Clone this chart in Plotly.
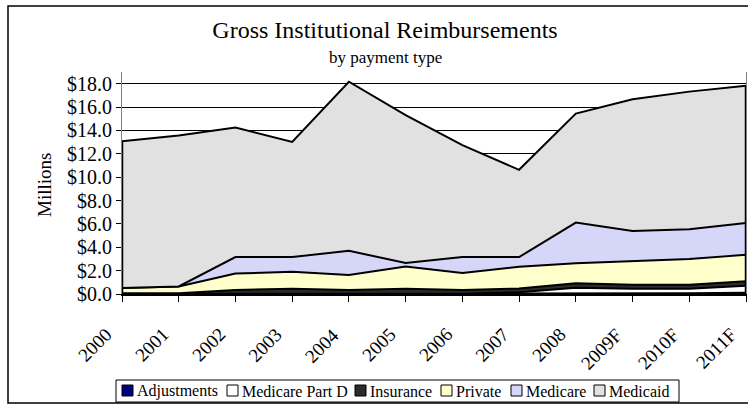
import plotly.graph_objects as go

# categories and series values (millions of dollars)
years = ["2000", "2001", "2002", "2003", "2004", "2005", "2006", "2007",
         "2008", "2009F", "2010F", "2011F"]

adjustments = [0.02, 0.02, 0.02, 0.02, 0.02, 0.02, 0.02, 0.02, 0.08, 0.06, 0.06, 0.10]
medicare_part_d = [0.0, 0.0, 0.0, 0.0, 0.0, 0.0, 0.0, 0.13, 0.45, 0.39, 0.39, 0.60]
insurance = [0.04, 0.04, 0.32, 0.43, 0.32, 0.43, 0.32, 0.33, 0.39, 0.35, 0.35, 0.40]
private = [0.45, 0.59, 1.41, 1.45, 1.28, 1.90, 1.45, 1.85, 1.72, 2.00, 2.20, 2.25]
medicare = [0.0, 0.0, 1.41, 1.26, 2.08, 0.30, 1.37, 0.83, 3.47, 2.60, 2.54, 2.73]
medicaid = [12.57, 12.91, 11.09, 9.86, 14.47, 12.65, 9.58, 7.47, 9.33, 11.26, 11.78, 11.75]

series = [
    ("Adjustments", adjustments, "#000080"),
    ("Medicare Part D", medicare_part_d, "#FFFFFF"),
    ("Insurance", insurance, "#2B2B2B"),
    ("Private", private, "#FFFFCC"),
    ("Medicare", medicare, "#D6D6F8"),
    ("Medicaid", medicaid, "#E1E1E1"),
]

FONT = "Liberation Serif"

# plot area in pixels (left, right, top, bottom) -> helpers for paper coords
PL, PR, PT, PB = 122, 746, 72, 294


def px(x):
    return (x - PL) / (PR - PL)


def py(y):
    return (PB - y) / (PB - PT)


fig = go.Figure()

for name, vals, color in series:
    fig.add_trace(go.Scatter(
        x=years, y=vals, name=name,
        mode="lines", stackgroup="one",
        line=dict(color="black", width=2),
        fillcolor=color, showlegend=False,
    ))

# black outline on the left and right edges of the stacked area
totals = [sum(v) for v in zip(*[s[1] for s in series])]
for i in (0, len(years) - 1):
    fig.add_trace(go.Scatter(
        x=[years[i], years[i]], y=[0, totals[i]],
        mode="lines", line=dict(color="black", width=2.5),
        showlegend=False, hoverinfo="skip",
    ))

fig.update_xaxes(
    type="category", range=[0, len(years) - 1],
    ticks="outside", ticklen=6, tickcolor="black", showticklabels=False,
    showline=True, linecolor="black", linewidth=2, showgrid=False,
)
fig.update_yaxes(
    range=[0, 19], dtick=2, tickprefix="$", tickformat=".1f",
    ticks="outside", ticklen=5, tickcolor="black",
    showline=True, linecolor="#808080", linewidth=1, mirror=True,
    showgrid=True, gridcolor="black", gridwidth=1, zeroline=False,
    tickfont=dict(family=FONT, size=20, color="black"),
)

# rotated category labels, hung a little below and left of each tick
# (x given as the category index so numeric-looking names stay categories)
for i, yr in enumerate(years):
    fig.add_annotation(text=yr, x=i, xref="x", y=0, yref="paper",
                       xanchor="right", yanchor="top", textangle=-45,
                       xshift=-3, yshift=-27, showarrow=False,
                       font=dict(family=FONT, size=19, color="black"))

fig.add_annotation(text="Millions", xref="paper", yref="paper",
                   x=px(44), y=py(185), xanchor="center", yanchor="middle",
                   textangle=-90, showarrow=False,
                   font=dict(family=FONT, size=19, color="black"))

# outer chart frame
fig.add_shape(type="rect", xref="paper", yref="paper",
              x0=px(8), x1=px(762), y0=py(403), y1=py(6),
              line=dict(color="black", width=1.5), layer="below")

fig.add_annotation(text="by payment type", xref="paper", yref="paper",
                   x=px(385), y=py(57), xanchor="center", yanchor="middle",
                   showarrow=False, font=dict(family=FONT, size=17, color="black"))

# legend box drawn by hand (small squares as in the original)
fig.add_shape(type="rect", xref="paper", yref="paper",
              x0=px(116), x1=px(679), y0=py(402), y1=py(380),
              line=dict(color="black", width=1), fillcolor="white")
legend_x = [122, 227, 355, 441, 511, 594]
for (name, _, color), lx in zip(series, legend_x):
    fig.add_shape(type="rect", xref="paper", yref="paper",
                  x0=px(lx), x1=px(lx + 11), y0=py(396), y1=py(385),
                  line=dict(color="black", width=1), fillcolor=color)
    fig.add_annotation(text=name, xref="paper", yref="paper",
                       x=px(lx + 13), y=py(391), xanchor="left", yanchor="middle",
                       showarrow=False,
                       font=dict(family=FONT, size=16, color="black"))

fig.update_layout(
    width=748, height=404,
    margin=dict(l=PL, r=748 - PR, t=PT, b=404 - PB, autoexpand=False),
    paper_bgcolor="white", plot_bgcolor="white",
    title=dict(text="Gross Institutional Reimbursements", xref="container", x=385 / 748,
               xanchor="center", y=1 - 30 / 404, yanchor="middle",
               font=dict(family=FONT, size=24, color="black")),
    showlegend=False,
)

# drop the default 8px body margin so the chart sits at the window's corner
fig.write_html("out.html", config={"displayModeBar": False},
               post_script="document.body.style.margin='0px';")
